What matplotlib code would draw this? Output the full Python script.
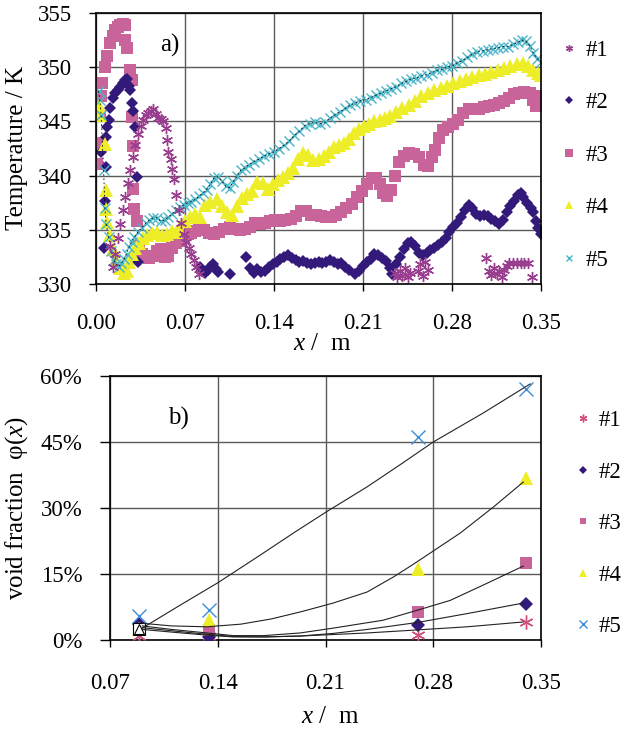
import matplotlib
matplotlib.use('Agg')
import matplotlib.pyplot as plt
from matplotlib.ticker import FormatStrFormatter, FuncFormatter

plt.rcParams['font.family'] = ['Liberation Serif', 'DejaVu Serif']
plt.rcParams['mathtext.fontset'] = 'custom'
plt.rcParams['mathtext.rm'] = 'Liberation Serif'
plt.rcParams['mathtext.it'] = 'Liberation Serif:italic'

# ---- a) temperature profiles ----
x1 = [0.011, 0.013, 0.015, 0.017, 0.019, 0.021, 0.023, 0.025, 0.027, 0.029,
      0.031, 0.033, 0.035, 0.037, 0.039, 0.041, 0.043, 0.045, 0.047, 0.049,
      0.051, 0.053, 0.055, 0.056, 0.057, 0.059, 0.060, 0.061, 0.063, 0.065,
      0.067, 0.069, 0.071, 0.073, 0.075, 0.077, 0.079, 0.081,
      0.235, 0.237, 0.239, 0.241, 0.243, 0.245, 0.247, 0.253, 0.255, 0.257, 0.259, 0.261,
      0.307, 0.309, 0.311, 0.313, 0.315, 0.317, 0.319, 0.321, 0.323, 0.325,
      0.328, 0.331, 0.334, 0.337, 0.340, 0.343]
t1 = [333.5, 331.6, 332.8, 334.2, 335.5, 336.8, 338.0, 339.3, 340.5, 341.7,
      342.8, 343.8, 344.6, 345.1, 345.6, 345.8, 346.0, 346.1, 345.7, 345.3,
      345.2, 345.0, 344.4, 343.3, 342.2, 341.5, 340.6, 339.7, 338.2, 336.8,
      335.6, 334.6, 333.9, 333.3, 332.8, 332.2, 331.6, 330.9,
      331.0, 330.6, 331.2, 330.7, 331.5, 330.6, 331.0, 331.2, 331.8, 330.7, 332.0, 331.3,
      332.4, 331.2, 330.8, 331.5, 330.9, 331.2, 330.6, 331.3, 331.7, 331.9,
      331.9, 331.9, 331.9, 331.9, 331.9, 330.6]

x2 = [0.004, 0.006, 0.007, 0.008, 0.008, 0.009, 0.010, 0.011, 0.013, 0.015,
      0.017, 0.019, 0.021, 0.023, 0.024, 0.026, 0.027, 0.028, 0.029, 0.031,
      0.032, 0.033, 0.082, 0.084, 0.086, 0.088, 0.090, 0.092, 0.094, 0.096,
      0.105, 0.118, 0.121, 0.124, 0.127, 0.130, 0.133, 0.136, 0.139, 0.142,
      0.145, 0.148, 0.151, 0.154, 0.157, 0.160, 0.163, 0.166, 0.169, 0.172,
      0.175, 0.178, 0.181, 0.184, 0.187, 0.190, 0.193, 0.196, 0.199, 0.204,
      0.207, 0.210, 0.213, 0.216, 0.219, 0.222, 0.225, 0.228, 0.231, 0.233,
      0.236, 0.239, 0.242, 0.245, 0.248, 0.251, 0.254, 0.257, 0.260, 0.263,
      0.266, 0.269, 0.272, 0.275, 0.278, 0.281, 0.284, 0.287, 0.290, 0.293,
      0.296, 0.299, 0.302, 0.305, 0.308, 0.311, 0.314, 0.317, 0.320, 0.323,
      0.326, 0.329, 0.332, 0.334, 0.336, 0.339, 0.342, 0.344, 0.346, 0.348, 0.350]
t2 = [342.2, 333.3, 337.7, 340.8, 343.6, 344.5, 345.1, 346.2, 347.2, 347.6,
      347.9, 348.2, 348.5, 348.8, 348.9, 348.3, 347.9, 346.7, 346.0, 344.5,
      339.9, 332.0, 331.6, 331.2, 331.0, 331.3, 331.6, 331.8, 331.4, 331.1,
      330.9, 332.5, 331.5, 331.0, 331.4, 331.1, 331.2, 331.6, 331.8, 332.0,
      332.3, 332.5, 332.7, 332.4, 332.2, 332.0, 332.1, 331.9, 331.8, 331.9,
      332.0, 331.9, 332.0, 332.2, 332.0, 331.8, 331.9, 331.6, 331.3, 330.9,
      331.2, 331.7, 332.0, 332.3, 332.8, 332.7, 332.4, 332.1, 331.5, 330.9,
      331.8, 332.5, 333.2, 333.8, 333.9, 333.5, 332.9, 332.7, 332.9, 333.1,
      333.3, 333.6, 333.9, 334.2, 334.8, 335.3, 335.6, 336.2, 336.8, 337.3,
      337.0, 336.5, 336.3, 336.4, 336.3, 336.0, 335.8, 335.5, 335.9, 336.6,
      337.2, 337.7, 338.2, 338.4, 338.0, 337.5, 337.0, 336.6, 335.8, 335.2, 334.6]

x3 = [0.001, 0.002, 0.003, 0.004, 0.005, 0.007, 0.009, 0.011, 0.013, 0.015,
      0.017, 0.019, 0.021, 0.023, 0.023, 0.024, 0.027, 0.028, 0.028, 0.029,
      0.029, 0.030, 0.032, 0.034, 0.036, 0.039, 0.042, 0.045, 0.048, 0.051,
      0.054, 0.057, 0.060, 0.063, 0.066, 0.069, 0.072, 0.075, 0.078, 0.081,
      0.085, 0.089, 0.093, 0.097, 0.101, 0.105, 0.109, 0.113, 0.117, 0.121,
      0.125, 0.129, 0.133, 0.137, 0.141, 0.145, 0.149, 0.153, 0.157, 0.161,
      0.165, 0.169, 0.173, 0.177, 0.181, 0.185, 0.189, 0.193, 0.197, 0.201,
      0.205, 0.209, 0.213, 0.217, 0.220, 0.223, 0.226, 0.229, 0.232, 0.235,
      0.238, 0.242, 0.246, 0.250, 0.254, 0.258, 0.261, 0.264, 0.267, 0.270,
      0.273, 0.277, 0.281, 0.285, 0.289, 0.293, 0.297, 0.301, 0.305, 0.309,
      0.313, 0.317, 0.321, 0.325, 0.329, 0.333, 0.337, 0.341, 0.344, 0.346,
      0.348, 0.350]
t3 = [341.1, 343.0, 345.5, 347.3, 348.5, 350.0, 351.0, 352.2, 352.9, 353.4,
      353.7, 353.9, 354.0, 353.9, 352.5, 351.8, 349.7, 348.8, 345.4, 342.7,
      338.8, 336.9, 335.8, 333.5, 332.8, 332.5, 332.4, 332.6, 333.0, 333.2,
      332.5, 332.6, 333.3, 333.8, 334.0, 334.3, 334.6, 334.7, 334.9, 335.0,
      335.0, 334.7, 334.6, 334.8, 335.1, 335.3, 335.1, 335.0, 335.1, 335.3,
      335.6, 335.5, 335.6, 335.8, 335.9, 335.8, 335.9, 336.0, 336.3, 336.7,
      336.7, 336.4, 336.4, 336.3, 336.2, 336.2, 336.4, 336.6, 337.0, 337.4,
      338.0, 338.6, 339.2, 339.8, 339.8, 339.2, 338.4, 338.1, 338.7, 340.0,
      341.3, 341.8, 342.1, 342.0, 341.7, 341.0, 340.9, 341.7, 342.4, 343.5,
      344.2, 344.5, 344.8, 345.1, 345.8, 346.1, 346.1, 346.1, 346.3, 346.4,
      346.5, 346.7, 346.9, 347.2, 347.5, 347.6, 347.7, 347.6, 347.0, 346.4,
      346.6, 347.3]

x4 = [0.002, 0.003, 0.007, 0.008, 0.008, 0.009, 0.011, 0.013, 0.016, 0.019,
      0.022, 0.024, 0.026, 0.028, 0.031, 0.034, 0.037, 0.040, 0.044, 0.048,
      0.052, 0.056, 0.060, 0.063, 0.066, 0.070, 0.074, 0.078, 0.082, 0.086,
      0.090, 0.095, 0.099, 0.103, 0.107, 0.111, 0.115, 0.119, 0.123, 0.127,
      0.131, 0.135, 0.139, 0.143, 0.147, 0.151, 0.155, 0.159, 0.163, 0.167,
      0.171, 0.175, 0.179, 0.183, 0.187, 0.191, 0.195, 0.199, 0.203, 0.207,
      0.211, 0.215, 0.219, 0.223, 0.227, 0.231, 0.236, 0.241, 0.246, 0.251,
      0.256, 0.261, 0.266, 0.271, 0.276, 0.281, 0.286, 0.291, 0.296, 0.301,
      0.306, 0.311, 0.316, 0.321, 0.326, 0.331, 0.336, 0.340, 0.344, 0.348, 0.350]
t4 = [346.4, 345.6, 342.9, 338.7, 336.9, 335.7, 334.5, 333.2, 332.3, 331.5,
      331.0, 331.2, 332.0, 332.8, 333.3, 333.8, 334.2, 334.5, 334.7, 334.8,
      334.5, 334.6, 334.9, 334.8, 335.3, 335.8, 336.2, 336.5, 336.2, 337.3,
      337.6, 337.8, 337.2, 336.6, 336.4, 337.2, 337.9, 338.3, 338.6, 339.4,
      339.3, 338.8, 339.2, 339.6, 339.9, 340.2, 340.7, 341.5, 342.1, 341.9,
      341.4, 341.5, 341.8, 342.2, 342.6, 342.8, 343.0, 343.4, 343.9, 344.3,
      344.6, 344.8, 345.0, 345.1, 345.3, 345.5, 345.9, 346.2, 346.5, 346.9,
      347.3, 347.6, 347.9, 348.1, 348.3, 348.5, 348.7, 348.9, 349.1, 349.3,
      349.4, 349.6, 349.7, 349.9, 350.1, 350.3, 350.4, 350.1, 349.7, 349.5, 349.3]

x5 = [0.002, 0.003, 0.004, 0.006, 0.007, 0.008, 0.010, 0.012, 0.014, 0.016,
      0.018, 0.020, 0.022, 0.024, 0.026, 0.028, 0.030, 0.033, 0.036, 0.039,
      0.042, 0.045, 0.048, 0.051, 0.054, 0.057, 0.060, 0.063, 0.066, 0.069,
      0.072, 0.075, 0.078, 0.081, 0.084, 0.087, 0.090, 0.093, 0.096, 0.099,
      0.102, 0.105, 0.108, 0.111, 0.114, 0.117, 0.120, 0.124, 0.128, 0.132,
      0.136, 0.140, 0.144, 0.148, 0.152, 0.156, 0.160, 0.164, 0.168, 0.172,
      0.176, 0.180, 0.184, 0.188, 0.192, 0.196, 0.200, 0.204, 0.208, 0.212,
      0.216, 0.220, 0.224, 0.228, 0.232, 0.236, 0.240, 0.244, 0.248, 0.252,
      0.256, 0.260, 0.264, 0.268, 0.272, 0.276, 0.280, 0.284, 0.288, 0.292,
      0.296, 0.300, 0.304, 0.308, 0.312, 0.316, 0.320, 0.324, 0.328, 0.332,
      0.335, 0.338, 0.341, 0.344, 0.347, 0.350]
t5 = [347.8, 347.0, 345.6, 340.5, 337.0, 335.5, 334.3, 333.0, 332.2, 331.8,
      331.6, 331.9, 332.3, 332.8, 333.4, 333.9, 334.3, 334.8, 335.2, 335.6,
      335.9, 336.1, 336.1, 335.8, 335.9, 336.2, 336.5, 336.8, 337.1, 337.3,
      337.5, 337.6, 337.8, 338.1, 338.4, 338.7, 339.2, 339.8, 339.9, 339.5,
      339.0, 338.9, 339.4, 340.0, 340.5, 340.7, 341.0, 341.3, 341.5, 341.8,
      342.0, 342.2, 342.5, 342.8, 343.2, 343.7, 344.1, 344.6, 344.8, 344.9,
      344.8, 344.9, 345.3, 345.6, 345.9, 346.2, 346.5, 346.7, 346.9, 347.0,
      347.2, 347.4, 347.6, 347.8, 348.0, 348.2, 348.5, 348.7, 348.9, 349.0,
      349.2, 349.3, 349.5, 349.7, 349.8, 350.0, 350.1, 350.4, 350.6, 350.9,
      351.2, 351.4, 351.5, 351.6, 351.7, 351.8, 351.9, 351.9, 352.1, 352.3,
      352.5, 352.4, 352.0, 351.3, 350.8, 350.5]

# ---- b) void fraction ----
xv = [0.089, 0.134, 0.270, 0.340]
phi1 = [1.0, 1.0, 1.1, 4.1]
phi2 = [3.6, 0.7, 3.4, 8.2]
phi3 = [2.6, 2.3, 6.4, 17.5]
phi4 = [2.6, 4.6, 16.1, 36.8]
phi5 = [5.5, 6.8, 46.1, 57.0]

# trend lines as drawn in the picture
xf1 = [0.091, 0.110, 0.133, 0.150, 0.170, 0.1935, 0.237, 0.270, 0.302, 0.3385]
f1 = [2.4, 1.8, 1.1, 0.7, 0.7, 0.9, 1.6, 2.3, 3.0, 4.1]
xf2 = [0.091, 0.110, 0.133, 0.150, 0.170, 0.1935, 0.215, 0.237, 0.270, 0.302, 0.3385]
f2 = [2.8, 2.1, 1.3, 0.8, 0.7, 0.9, 1.5, 2.4, 4.0, 6.0, 8.4]
xf3 = [0.091, 0.110, 0.133, 0.150, 0.170, 0.1935, 0.215, 0.2475, 0.270, 0.291, 0.315, 0.3385]
f3 = [3.2, 2.4, 1.6, 1.0, 1.0, 1.6, 2.7, 4.5, 6.8, 9.0, 12.9, 16.8]
xf4 = [0.091, 0.110, 0.133, 0.155, 0.175, 0.195, 0.215, 0.237, 0.254, 0.267, 0.2975, 0.319, 0.3385]
f4 = [3.8, 3.2, 3.0, 3.6, 4.8, 6.5, 8.4, 10.9, 14.3, 17.2, 24.3, 30.2, 35.9]
xf5 = [0.091, 0.115, 0.140, 0.165, 0.190, 0.210, 0.237, 0.260, 0.280, 0.3125, 0.343]
f5 = [2.7, 7.8, 13.0, 18.7, 24.5, 29.0, 34.8, 40.2, 45.0, 51.6, 58.2]

labels = ['#1', '#2', '#3', '#4', '#5']
xticks_a = [0.00, 0.07, 0.14, 0.21, 0.28, 0.35]
yticks_a = [330, 335, 340, 345, 350, 355]
xticks_b = [0.07, 0.14, 0.21, 0.28, 0.35]
yticks_b = [0, 15, 30, 45, 60]

c1, c2, c3, c4, c5 = '#993D8F', '#33197A', '#C8649A', '#EDED28', '#4BB5C8'
star = (6, 2, 0)
W, H = 626, 733

fig = plt.figure(figsize=(W / 100, H / 100), dpi=100)
ax1 = fig.add_axes([96 / W, 1 - 284 / H, 445 / W, 271 / H])
ax2 = fig.add_axes([110 / W, 1 - 640 / H, 431 / W, 264 / H])

for ax in (ax1, ax2):
    ax.grid(True, color='#5a5a5a', lw=1.0)
    ax.set_axisbelow(True)
    for s in ax.spines.values():
        s.set_color('black')
        s.set_linewidth(1.2)

# top panel
ax1.plot(x3, t3, 's', ms=8.5, color=c3, mew=0, label=labels[2], zorder=2.0)
ax1.plot(x2, t2, 'D', ms=6.5, color=c2, mew=0, label=labels[1], zorder=2.1)
ax1.plot(x4, t4, '^', ms=9.5, color=c4, mew=0, label=labels[3], zorder=2.2)
ax1.plot(x5, t5, 'x', ms=7.5, color=c5, mew=1.0, label=labels[4], zorder=2.3)
ax1.plot(x5, t5, color='black', lw=0.6, dashes=(2, 3), zorder=2.35)
ax1.plot(x1, t1, ls='none', marker=star, ms=8, color=c1, mew=1.0, label=labels[0], zorder=2.4)

ax1.set_xlim(0, 0.35)
ax1.set_ylim(330, 355)
ax1.set_xticks(xticks_a)
ax1.set_yticks(yticks_a)
ax1.xaxis.set_major_formatter(FormatStrFormatter('%.2f'))
ax1.tick_params(axis='y', direction='out', length=5, width=1, pad=12, labelsize=16.5)
ax1.tick_params(axis='x', direction='out', length=5, width=1, pad=16, labelsize=16.5)
ax1.text((170 - 96) / 445, 1 - 32 / 271, 'a)', transform=ax1.transAxes, fontsize=18,
         ha='center', va='center')

h1, l1 = ax1.get_legend_handles_labels()
order = [l1.index(s) for s in labels]
fig.legend([h1[i] for i in order], labels, loc='upper left',
           bbox_to_anchor=(562 / W, 1 - 40 / H), frameon=False, fontsize=16.5,
           handlelength=0.6, handletextpad=0.45, labelspacing=1.37,
           borderpad=0, borderaxespad=0, markerscale=0.62, numpoints=1)

fig.text(17 / W, 1 - 148 / H, 'Temperature / K', rotation=90, fontsize=18,
         ha='center', va='center')
fig.text(322 / W, 1 - 344 / H, '$x$ /  m', fontsize=18, ha='center', va='center')

# bottom panel
b1, = ax2.plot(xv, phi1, ls='none', marker=star, ms=10, color='#D0507A', mew=1.0, label=labels[0], zorder=3)
b2, = ax2.plot(xv, phi2, 'D', ms=7, color=c2, mew=0, label=labels[1], zorder=3.1)
b3, = ax2.plot(xv, phi3, 's', ms=8.5, color=c3, mew=0, label=labels[2], zorder=3.2)
b4, = ax2.plot(xv, phi4, '^', ms=10, color=c4, mew=0, label=labels[3], zorder=3.3)
b5, = ax2.plot(xv, phi5, 'x', ms=10, color='#3C8CD8', mew=1.0, label=labels[4], zorder=3.4)
ax2.plot(xv[:1], phi3[:1], 's', ms=8.5, mfc='white', mec='black', mew=0.8, zorder=3.5)
ax2.plot(xv[:1], phi4[:1], '^', ms=7, mfc='none', mec='black', mew=0.8, zorder=3.6)

for xf, f in ((xf1, f1), (xf2, f2), (xf3, f3), (xf4, f4), (xf5, f5)):
    ax2.plot(xf, f, color='#222222', lw=0.8, zorder=4)

ax2.set_xlim(0.07, 0.35)
ax2.set_ylim(0, 60)
ax2.set_xticks(xticks_b)
ax2.set_yticks(yticks_b)
ax2.xaxis.set_major_formatter(FormatStrFormatter('%.2f'))
ax2.yaxis.set_major_formatter(FuncFormatter(lambda v, p: '%d%%' % round(v)))
ax2.tick_params(axis='y', direction='out', length=7, width=1, pad=13, labelsize=16.5)
ax2.tick_params(axis='x', direction='out', length=5, width=1, pad=19, labelsize=16.5)
ax2.text(68 / 431, 1 - 42 / 264, 'b)', transform=ax2.transAxes, fontsize=18,
         ha='center', va='center')

fig.legend([b1, b2, b3, b4, b5], labels, loc='upper left',
           bbox_to_anchor=(576 / W, 1 - 410 / H), frameon=False, fontsize=16.5,
           handlelength=0.6, handletextpad=0.4, labelspacing=1.33,
           borderpad=0, borderaxespad=0, markerscale=0.55, numpoints=1)

fig.text(17 / W, 1 - 508 / H, 'void fraction  φ($x$)', rotation=90, fontsize=18,
         ha='center', va='center')
fig.text(330 / W, 1 - 717 / H, '$x$ /  m', fontsize=18, ha='center', va='center')

fig.savefig('out.png', dpi=100)
